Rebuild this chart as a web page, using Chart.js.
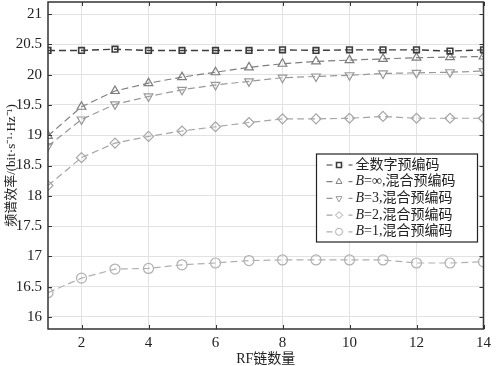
<!doctype html>
<html lang="zh">
<head>
  <meta charset="utf-8">
  <title>频谱效率</title>
  <script src="https://cdn.jsdelivr.net/npm/chart.js@4/dist/chart.umd.min.js"></script>
  <style>
    html, body { margin: 0; padding: 0; background: #fff; }
    #wrap { width: 496px; height: 366px; }
  </style>
</head>
<body>
  <div id="wrap"><canvas id="canvas"></canvas></div>
  <script>
    // RF链数量
    var rfChains = [1, 2, 3, 4, 5, 6, 7, 8, 9, 10, 11, 12, 13, 14];
    // 各方案的频谱效率
    var fullDigital = [20.40, 20.40, 20.42, 20.40, 20.40, 20.40, 20.40, 20.41, 20.40, 20.41, 20.41, 20.41, 20.39, 20.41];
    var hybridInf = [18.99, 19.47, 19.73, 19.86, 19.96, 20.04, 20.12, 20.18, 20.22, 20.24, 20.26, 20.28, 20.29, 20.30];
    var hybridB3 = [18.82, 19.26, 19.51, 19.64, 19.75, 19.83, 19.89, 19.95, 19.97, 19.99, 20.02, 20.03, 20.04, 20.06];
    var hybridB2 = [18.17, 18.63, 18.87, 18.98, 19.07, 19.14, 19.21, 19.27, 19.27, 19.28, 19.31, 19.28, 19.28, 19.28];
    var hybridB1 = [16.40, 16.64, 16.79, 16.80, 16.86, 16.89, 16.93, 16.94, 16.94, 16.94, 16.94, 16.89, 16.89, 16.91];
    var seriesNames = ['全数字预编码', 'B=∞,混合预编码', 'B=3,混合预编码', 'B=2,混合预编码', 'B=1,混合预编码'];
    var xTicks = [2, 4, 6, 8, 10, 12, 14];
    var yTicks = [16, 16.5, 17, 17.5, 18, 18.5, 19, 19.5, 20, 20.5, 21];

    var allSeries = [fullDigital, hybridInf, hybridB3, hybridB2, hybridB1];
    var colors = ['#3c3c3c', '#7e7e7e', '#999999', '#a6a6a6', '#b0b0b0'];
    var shapes = ['rect', 'triangle', 'triangle', 'rectRot', 'circle'];
    var rotations = [0, 0, 180, 0, 0];
    var radii = [4, 5, 5, 5, 5];

    var serif = '"Liberation Serif", "Noto Sans CJK SC", serif';

    function toPoints(vals) {
      return vals.map(function (v, i) { return { x: rfChains[i], y: v }; });
    }

    var datasets = allSeries.map(function (vals, i) {
      return {
        label: seriesNames[i],
        data: toPoints(vals),
        borderColor: colors[i],
        backgroundColor: 'rgba(0,0,0,0)',
        borderWidth: i === 0 ? 1.4 : 1.2,
        borderDash: [7, 4],
        pointStyle: shapes[i],
        pointRotation: rotations[i],
        pointRadius: radii[i],
        pointBorderWidth: i === 0 ? 1.6 : 1.2,
        pointBorderColor: colors[i],
        pointBackgroundColor: 'rgba(0,0,0,0)',
        tension: 0
      };
    });

    // 坐标框、内向刻度和图例
    var frame = {
      id: 'frame',
      afterDraw: function (chart) {
        var ctx = chart.ctx;
        var a = chart.chartArea;
        var xs = chart.scales.x, ys = chart.scales.y;
        ctx.save();
        ctx.strokeStyle = '#333';
        ctx.lineWidth = 1;
        ctx.beginPath();
        xTicks.forEach(function (t) {
          var px = Math.round(xs.getPixelForValue(t)) + 0.5;
          ctx.moveTo(px, a.bottom); ctx.lineTo(px, a.bottom - 4);
          ctx.moveTo(px, a.top); ctx.lineTo(px, a.top + 4);
        });
        yTicks.forEach(function (t) {
          var py = Math.round(ys.getPixelForValue(t)) + 0.5;
          ctx.moveTo(a.left, py); ctx.lineTo(a.left + 4, py);
          ctx.moveTo(a.right, py); ctx.lineTo(a.right - 4, py);
        });
        ctx.stroke();
        ctx.lineWidth = 1.5;
        ctx.strokeRect(a.left, a.top, a.right - a.left, a.bottom - a.top);

        // 图例
        var bx = a.right - 167, by = a.top + 152, bw = 161, bh = 88;
        ctx.fillStyle = '#fff';
        ctx.fillRect(bx, by, bw, bh);
        ctx.lineWidth = 1.2;
        ctx.strokeStyle = '#222';
        ctx.strokeRect(bx, by, bw, bh);
        chart.data.datasets.forEach(function (ds, i) {
          var ry = by + 11 + i * 16.7;
          ctx.strokeStyle = ds.borderColor;
          ctx.lineWidth = 1.2;
          ctx.setLineDash([6, 5]);
          ctx.beginPath();
          ctx.moveTo(bx + 10, ry); ctx.lineTo(bx + 36, ry);
          ctx.stroke();
          ctx.setLineDash([]);
          ctx.fillStyle = '#fff';
          ctx.fillRect(bx + 18, ry - 4, 9, 8);
          ctx.lineWidth = i === 0 ? 1.6 : 1;
          Chart.helpers.drawPoint(ctx, {
            pointStyle: ds.pointStyle, rotation: ds.pointRotation,
            radius: 3.5, borderWidth: ctx.lineWidth
          }, bx + 22.5, ry);
          ctx.fillStyle = '#222';
          ctx.textBaseline = 'middle';
          ctx.textAlign = 'left';
          var tx = bx + 39;
          var txt = ds.label;
          if (txt.charAt(0) === 'B') {
            ctx.font = 'italic 14px ' + serif;
            ctx.fillText('B', tx, ry);
            tx += ctx.measureText('B').width;
            txt = txt.slice(1);
          }
          ctx.font = '14px ' + serif;
          ctx.fillText(txt, tx, ry);
        });
        ctx.restore();
      }
    };

    new Chart(document.getElementById('canvas'), {
      type: 'line',
      data: { datasets: datasets },
      options: {
        responsive: true,
        maintainAspectRatio: false,
        animation: false,
        layout: { autoPadding: false, padding: { top: 2, right: 5, left: 0, bottom: 0 } },
        plugins: { legend: { display: false }, tooltip: { enabled: false } },
        scales: {
          x: {
            type: 'linear',
            min: 1,
            max: 14,
            afterBuildTicks: function (s) { s.ticks = xTicks.map(function (v) { return { value: v }; }); },
            afterFit: function (s) { s.height = 37; },
            border: { display: false },
            grid: { color: '#e2e2e2', drawTicks: false },
            ticks: { padding: 5, color: '#222', font: { family: serif, size: 15 } },
            title: {
              display: true, text: 'RF链数量', color: '#222',
              font: { family: serif, size: 14, lineHeight: 1 },
              padding: { top: 0, bottom: 0 }
            }
          },
          y: {
            min: 15.8,
            max: 21.2,
            afterBuildTicks: function (s) { s.ticks = yTicks.map(function (v) { return { value: v }; }); },
            afterFit: function (s) { s.width = 48; s.paddingTop = 0; s.paddingBottom = 0; },
            border: { display: false },
            grid: { color: '#e2e2e2', drawTicks: false },
            ticks: {
              padding: 6, color: '#222', font: { family: serif, size: 15 },
              callback: function (v) { return String(v); }
            },
            title: {
              display: true, text: '频谱效率/(bit·s⁻¹·Hz⁻¹)', color: '#222',
              font: { family: serif, size: 13, lineHeight: 1.2 },
              padding: { top: 4, bottom: 0 }
            }
          }
        }
      },
      plugins: [frame]
    });
  </script>
</body>
</html>
